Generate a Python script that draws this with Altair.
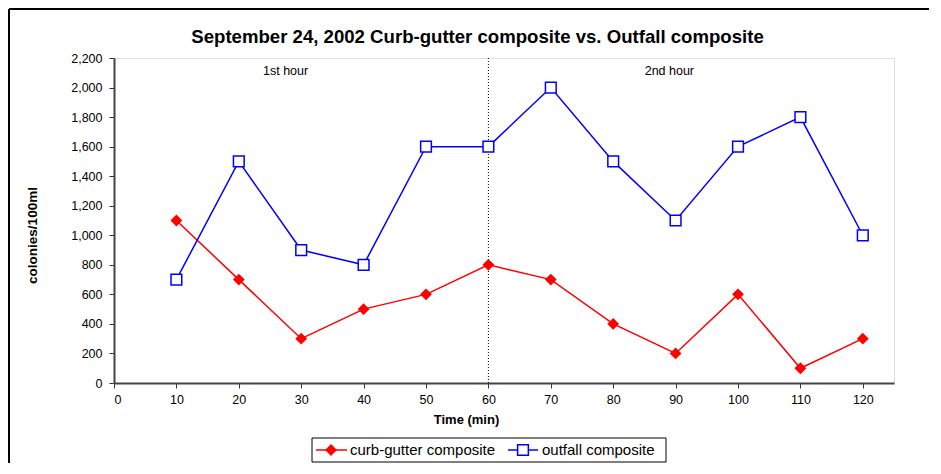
import altair as alt
import pandas as pd

# ---- data ----
time_min = [10, 20, 30, 40, 50, 60, 70, 80, 90, 100, 110, 120]
curb_gutter = [1100, 700, 300, 500, 600, 800, 700, 400, 200, 600, 100, 300]
outfall = [700, 1500, 900, 800, 1600, 1600, 2000, 1500, 1100, 1600, 1800, 1000]
hour_split = [60]
hour_labels = ["1st hour", "2nd hour"]
hour_label_x = [27.5, 89]
x_ticks = [0, 10, 20, 30, 40, 50, 60, 70, 80, 90, 100, 110, 120]
y_ticks = [0, 200, 400, 600, 800, 1000, 1200, 1400, 1600, 1800, 2000, 2200]
series_names = ["curb-gutter composite", "outfall composite"]
title_text = "September 24, 2002 Curb-gutter composite vs. Outfall composite"

df = pd.DataFrame({"t": time_min, "curb": curb_gutter, "outfall": outfall})
split_df = pd.DataFrame({"t": hour_split})
lab_df = pd.DataFrame({"t": hour_label_x, "label": hour_labels})
one = pd.DataFrame({"a": [0]})

W, H = 780, 325
FONT = "Liberation Sans"

xscale = alt.Scale(domain=[0, 125], nice=False, zero=True)
yscale = alt.Scale(domain=[0, 2200], nice=False)

x_axis = alt.Axis(values=x_ticks, format="d", title="Time (min)", grid=False,
                  labelFontSize=12.5, labelFont=FONT, labelColor="#000", labelOverlap=False,
                  titleFont=FONT, titleFontSize=13, titleFontWeight="bold", titleColor="#000",
                  titleX=352, titleY=36, titleBaseline="middle",
                  tickSize=5, tickColor="#333", domainColor="#444", domainWidth=2,
                  labelPadding=5)
y_axis = alt.Axis(values=y_ticks, format=",.0f", title="colonies/100ml", grid=False,
                  labelFontSize=12.5, labelFont=FONT, labelColor="#000", labelOverlap=False,
                  titleFont=FONT, titleFontSize=13.5, titleFontWeight="bold", titleColor="#000",
                  titleX=-82, titleY=177, titleAngle=270, titleBaseline="middle", titleAlign="center",
                  tickSize=5, tickColor="#333", domainColor="#444", domainWidth=2,
                  labelPadding=7)

X = alt.X("t:Q", scale=xscale, axis=x_axis)

base = alt.Chart(df)

curb_line = base.mark_line(color="#ff0000", strokeWidth=1.5).encode(
    x=X, y=alt.Y("curb:Q", scale=yscale, axis=y_axis))
curb_pts = base.mark_point(shape="diamond", filled=True, color="#ff0000", size=140, opacity=1).encode(
    x=X, y=alt.Y("curb:Q", scale=yscale, axis=y_axis))
out_line = base.mark_line(color="#0000ff", strokeWidth=1.5).encode(
    x=X, y=alt.Y("outfall:Q", scale=yscale, axis=y_axis))
out_pts = base.mark_point(shape="square", filled=False, fill="white", stroke="#0000ff",
                          strokeWidth=1.5, size=115, opacity=1).encode(
    x=X, y=alt.Y("outfall:Q", scale=yscale, axis=y_axis))

divider = alt.Chart(split_df).mark_rule(color="#000", strokeDash=[1, 2], strokeWidth=1).encode(
    x=X, y=alt.value(0), y2=alt.value(H))

hour_txt = alt.Chart(lab_df).mark_text(font=FONT, fontSize=12.5, color="#000", baseline="middle").encode(
    x=X, y=alt.value(13), text="label:N")

# chart title as text
title_mark = alt.Chart(one).mark_text(text=title_text, font=FONT, fontSize=18.6, fontWeight="bold",
                                      color="#000", align="center", baseline="alphabetic").encode(
    x=alt.value(363.5), y=alt.value(-15))

# outer frame (top and left edges)
frame_top = alt.Chart(one).mark_rule(color="#000", strokeWidth=2).encode(
    x=alt.value(-105), x2=alt.value(W + 40), y=alt.value(-49))
frame_left = alt.Chart(one).mark_rule(color="#000", strokeWidth=2).encode(
    x=alt.value(-105), y=alt.value(-49), y2=alt.value(H + 90))

# manual legend
leg_box = alt.Chart(one).mark_rect(fill="white", stroke="#000", strokeWidth=1).encode(
    x=alt.value(198), x2=alt.value(552), y=alt.value(380), y2=alt.value(404))
leg_r_line = alt.Chart(one).mark_rule(color="#ff0000", strokeWidth=1.5).encode(
    x=alt.value(202), x2=alt.value(233), y=alt.value(392))
leg_r_pt = alt.Chart(one).mark_point(shape="diamond", filled=True, color="#ff0000", size=140, opacity=1).encode(
    x=alt.value(217), y=alt.value(392))
leg_r_txt = alt.Chart(one).mark_text(text=series_names[0], font=FONT, fontSize=15, align="left",
                                     baseline="middle", color="#000").encode(
    x=alt.value(236), y=alt.value(392))
leg_b_line = alt.Chart(one).mark_rule(color="#0000ff", strokeWidth=1.5).encode(
    x=alt.value(394), x2=alt.value(424), y=alt.value(392))
leg_b_pt = alt.Chart(one).mark_point(shape="square", filled=False, fill="white", stroke="#0000ff",
                                     strokeWidth=1.5, size=115, opacity=1).encode(
    x=alt.value(409), y=alt.value(392))
leg_b_txt = alt.Chart(one).mark_text(text=series_names[1], font=FONT, fontSize=15, align="left",
                                     baseline="middle", color="#000").encode(
    x=alt.value(428), y=alt.value(392))

chart = alt.layer(
    curb_line, divider, out_line, curb_pts, out_pts, hour_txt, title_mark,
    frame_top, frame_left,
    leg_box, leg_r_line, leg_r_pt, leg_r_txt, leg_b_line, leg_b_pt, leg_b_txt,
).properties(
    width=W, height=H,
    autosize=alt.AutoSizeParams(type="none"),
    padding={"left": 106, "top": 50, "right": 35, "bottom": 80},
).configure_view(stroke="#a0a0a0", strokeWidth=2).configure(background="white")

chart.save("out.html", embed_options={"renderer": "svg", "actions": False})
